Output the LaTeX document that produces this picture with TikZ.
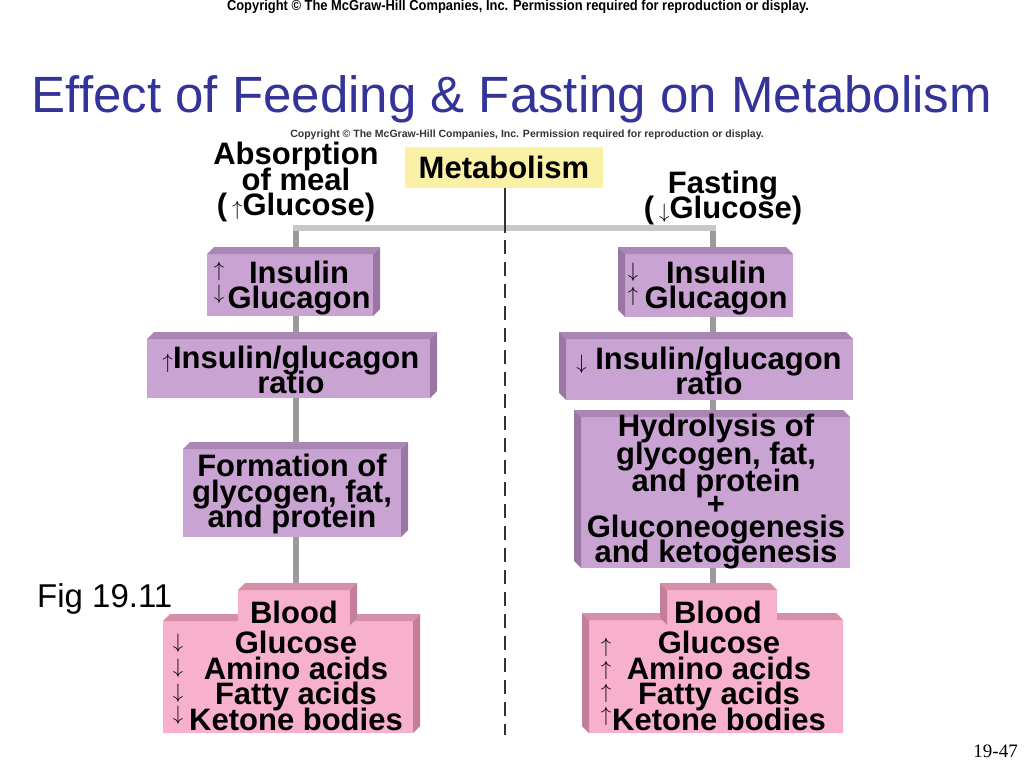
\documentclass[tikz,border=0pt]{standalone}
\usepackage{fontspec}
\setmainfont{Liberation Sans}
\newfontfamily\timesf{Liberation Serif}
\usetikzlibrary{backgrounds,calc}
\definecolor{titleblue}{HTML}{333399}
\definecolor{pface}{HTML}{C9A3D2}
\definecolor{ptop}{HTML}{A986B3}
\definecolor{pside}{HTML}{9A76A4}
\definecolor{kface}{HTML}{F7B1CC}
\definecolor{ktop}{HTML}{D68FAB}
\definecolor{kside}{HTML}{C27E9A}
\definecolor{yface}{HTML}{FAF0A6}
\definecolor{vgray}{HTML}{9B9B9B}
\definecolor{hgray}{HTML}{C8C8C8}
\definecolor{dline}{HTML}{333333}
\newcommand\extR[4]{%
  \fill[#3] (#1.north west) -- ++(#2,-#2) -- ($(#1.north east)+(#2,-#2)$) -- (#1.north east) -- cycle;
  \fill[#4] (#1.north east) -- ++(#2,-#2) -- ($(#1.south east)+(#2,-#2)$) -- (#1.south east) -- cycle;}
\newcommand\extL[4]{%
  \fill[#3] (#1.north east) -- ++(-#2,-#2) -- ($(#1.north west)+(-#2,-#2)$) -- (#1.north west) -- cycle;
  \fill[#4] (#1.north west) -- ++(-#2,-#2) -- ($(#1.south west)+(-#2,-#2)$) -- (#1.south west) -- cycle;}
\newcommand\arU{{\fontsize{21}{21}\selectfont$\uparrow$}}
\newcommand\arD{{\fontsize{21}{21}\selectfont$\downarrow$}}
\newcommand\tightlines{\lineskiplimit=-100pt\relax\lineskip=0pt\relax}
\tikzset{
  face/.style 2 args={minimum width=#1pt, minimum height=#2pt, inner sep=0pt, outer sep=0pt},
  purp/.style={fill=pface},
  pink/.style={fill=kface},
  lbl/.style={font=\bfseries\fontsize{31}{25.5}\selectfont\tightlines, align=center, inner sep=0pt},
  lblwide/.style={font=\bfseries\fontsize{31}{27.5}\selectfont\tightlines, align=center, inner sep=0pt},
  arr/.style={font=\fontsize{21}{21}\selectfont, inner sep=0pt},
  vbar/.style={draw=vgray, line width=6pt},
  hbar/.style={draw=hgray, line width=6pt},
  solidline/.style={draw=dline, line width=2pt},
  dashline/.style={draw=dline, line width=2pt, dash pattern=on 14pt off 8pt},
}
\begin{document}
\begin{tikzpicture}[x=1pt,y=-1pt]
\useasboundingbox (0,0) rectangle (1024,768);

% header texts
\node[font=\bfseries\fontsize{14.5}{14.5}\selectfont, inner sep=0pt] (cr) at (518,7)
  {\scalebox{0.89}[1]{Copyright © The McGraw-Hill Companies, Inc. Permission required for reproduction or display.}};
\node[font=\fontsize{51}{51}\selectfont, text=titleblue, anchor=base, inner sep=0pt] (title) at (512,112)
  {Effect of Feeding \& Fasting on Metabolism};
\node[font=\bfseries\fontsize{10.5}{10.5}\selectfont, text=dline, inner sep=0pt] (cr2) at (527,135)
  {Copyright © The McGraw-Hill Companies, Inc. Permission required for reproduction or display.};

% Metabolism box
\node[face={198}{41}, fill=yface, font=\bfseries\fontsize{31}{31}\selectfont] (meta) at (504,167.5) {Metabolism};

% column headers
\node[lbl] (absorb) at (296,182) {Absorption\\of meal\\(\,\arU Glucose)};
\node[lbl] (fast) at (723,198) {Fasting\\(\,\arD Glucose)};

% ---- left column ----
\node[face={166}{62}, purp] (L1) at (290,285) {};
\extR{L1}{7}{ptop}{pside}
\node[lbl] (L1t) at (299,288) {Insulin\\Glucagon};
\node[arr] (L1a) at (219,271) {$\uparrow$};
\node[arr] (L1b) at (219,294) {$\downarrow$};

\node[face={283}{59}, purp] (L2) at (288.5,368.5) {};
\extR{L2}{7}{ptop}{pside}
\node[lbl] (L2t) at (291,370) {\arU Insulin/glucagon\\ratio};

\node[face={218}{88}, purp] (L3) at (292,493) {};
\extR{L3}{7}{ptop}{pside}
\node[lbl] (L3t) at (292,494) {Formation of\\glycogen, fat,\\and protein};

\node[face={250}{112}, pink] (L4w) at (288,677) {};
\extR{L4w}{7}{ktop}{kside}
\node[face={112}{35}, pink] (L4t) at (294,607.5) {};
\extR{L4t}{7}{ktop}{kside}
\node[lbl] (L4b) at (294,612) {Blood};
\node[lbl] (L4l) at (296,681) {Glucose\\Amino acids\\Fatty acids\\Ketone bodies};
\node[arr] (L4a1) at (178,643) {$\downarrow$};
\node[arr] (L4a2) at (178,668) {$\downarrow$};
\node[arr] (L4a3) at (178,693) {$\downarrow$};
\node[arr] (L4a4) at (178,715) {$\downarrow$};

% ---- right column ----
\node[face={168}{63}, purp] (R1) at (709,285.5) {};
\extL{R1}{7}{ptop}{pside}
\node[lbl] (R1t) at (716,288) {Insulin\\Glucagon};
\node[arr] (R1a) at (633,272) {$\downarrow$};
\node[arr] (R1b) at (633,296) {$\uparrow$};

\node[face={287}{61}, purp] (R2) at (709.5,369.5) {};
\extL{R2}{7}{ptop}{pside}
\node[lbl] (R2t) at (709,371) {\arD\ Insulin/glucagon\\ratio};

\node[face={269}{151}, purp] (R3) at (715.5,492.5) {};
\extL{R3}{7}{ptop}{pside}
\node[lblwide] (R3t) at (716,492) {Hydrolysis of\\glycogen, fat,\\and protein\\[-4.5pt]+\\[-4.5pt]Gluconeogenesis\\[-2.5pt]and ketogenesis};

\node[face={254}{113}, pink] (R4w) at (716,676.5) {};
\extL{R4w}{7}{ktop}{kside}
\node[face={110}{35}, pink] (R4t) at (722,607.5) {};
\extL{R4t}{7}{ktop}{kside}
\node[lbl] (R4b) at (718,612) {Blood};
\node[lbl] (R4l) at (719,681) {Glucose\\Amino acids\\Fatty acids\\Ketone bodies};
\node[arr] (R4a1) at (606,647) {$\uparrow$};
\node[arr] (R4a2) at (606,670) {$\uparrow$};
\node[arr] (R4a3) at (606,693) {$\uparrow$};
\node[arr] (R4a4) at (606,716) {$\uparrow$};

% figure label and page number
\node[font=\fontsize{33}{33}\selectfont, anchor=base west, inner sep=0pt] (fig) at (37,607) {Fig 19.11};
\node[font=\timesf\fontsize{19}{19}\selectfont, anchor=base east, inner sep=0pt] (pg) at (1018,757) {19-47};

% connectors
\coordinate (tL) at (296,228);
\coordinate (tR) at (713,228);
\coordinate (hL) at (293,228);
\coordinate (hR) at (716,228);
\coordinate (dtop) at (505,240);
\coordinate (dend) at (505,735);
\begin{pgfonlayer}{background}
  \draw[vbar] (tL) -- (tL |- L4t.north);
  \draw[vbar] (tR) -- (tR |- R4t.north);
  \draw[hbar] (hL) -- (hR);
  \draw[solidline] (meta.south -| dtop) -- (505,233);
  \draw[dashline] (dtop) -- (dend);
\end{pgfonlayer}
\end{tikzpicture}
\end{document}
